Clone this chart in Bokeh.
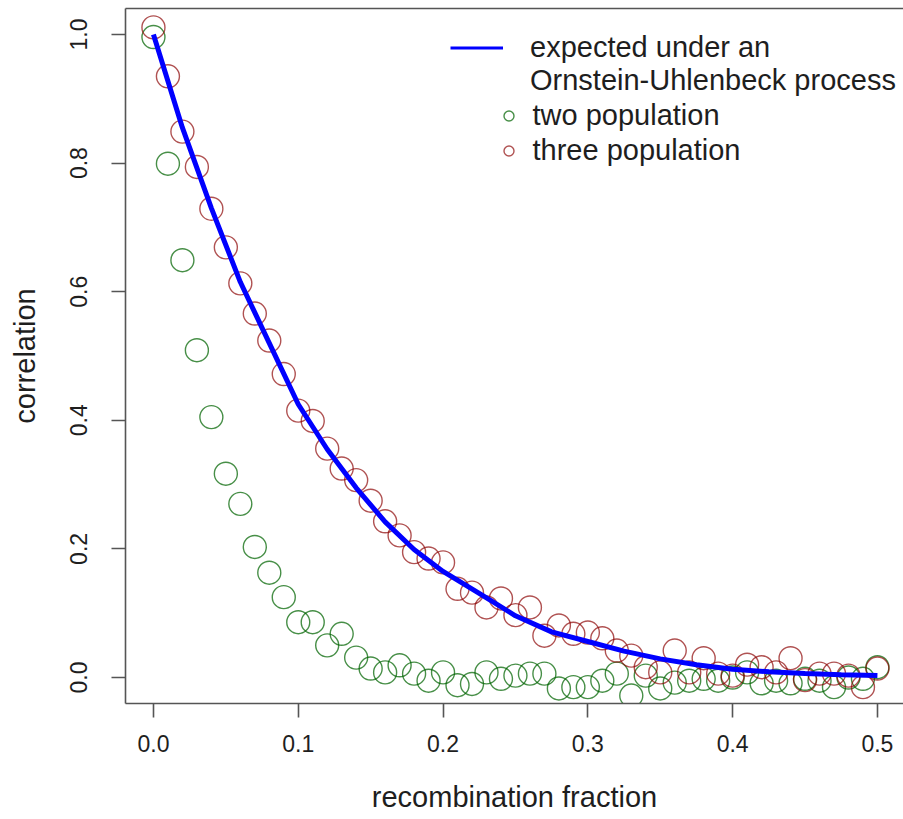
from bokeh.plotting import figure
from bokeh.models import (Range1d, FixedTicker, PrintfTickFormatter, LinearAxis,
                          Legend, LegendItem)
from bokeh.embed import file_html
from bokeh.resources import INLINE

# ---- data ----
rec_frac = [0.00, 0.01, 0.02, 0.03, 0.04, 0.05, 0.06, 0.07, 0.08, 0.09,
            0.10, 0.11, 0.12, 0.13, 0.14, 0.15, 0.16, 0.17, 0.18, 0.19,
            0.20, 0.21, 0.22, 0.23, 0.24, 0.25, 0.26, 0.27, 0.28, 0.29,
            0.30, 0.31, 0.32, 0.33, 0.34, 0.35, 0.36, 0.37, 0.38, 0.39,
            0.40, 0.41, 0.42, 0.43, 0.44, 0.45, 0.46, 0.47, 0.48, 0.49,
            0.50]

two_population = [0.996, 0.799, 0.649, 0.509, 0.405, 0.317, 0.270, 0.203, 0.163, 0.125,
                  0.086, 0.086, 0.050, 0.068, 0.031, 0.014, 0.008, 0.019, 0.006, -0.005,
                  0.008, -0.012, -0.010, 0.008, -0.002, 0.003, 0.006, 0.006, -0.017, -0.015,
                  -0.015, -0.005, 0.006, -0.028, 0.003, -0.017, -0.008, -0.005, -0.002, -0.005,
                  0.000, 0.008, -0.009, -0.005, -0.009, -0.002, -0.005, -0.015, 0.000, -0.002,
                  0.016]

three_population = [1.011, 0.935, 0.849, 0.794, 0.729, 0.669, 0.613, 0.566, 0.524, 0.472,
                    0.415, 0.399, 0.356, 0.325, 0.307, 0.275, 0.243, 0.221, 0.195, 0.185,
                    0.179, 0.138, 0.132, 0.109, 0.123, 0.097, 0.109, 0.065, 0.081, 0.068,
                    0.070, 0.061, 0.042, 0.034, 0.016, 0.008, 0.042, 0.008, 0.030, 0.006,
                    0.003, 0.020, 0.016, 0.008, 0.030, -0.004, 0.006, 0.006, 0.003, -0.015,
                    0.014]

ou_x = [0.0, 0.02, 0.04, 0.06, 0.08, 0.10, 0.12, 0.14, 0.16, 0.18, 0.20, 0.225,
        0.25, 0.275, 0.30, 0.325, 0.35, 0.375, 0.40, 0.425, 0.45, 0.475, 0.50]
ou_y = [1.0, 0.855, 0.730, 0.615, 0.520, 0.425, 0.355, 0.295, 0.242, 0.199, 0.165, 0.131,
        0.096, 0.071, 0.056, 0.041, 0.029, 0.020, 0.013, 0.009, 0.0064, 0.0045, 0.003]

x_ticks = [0.0, 0.1, 0.2, 0.3, 0.4, 0.5]
y_ticks = [0.0, 0.2, 0.4, 0.6, 0.8, 1.0]

FONT = "Liberation Sans"
AXC = "#555555"
TXT = "#1e1e1e"
NAN = float("nan")

p = figure(width=903, height=819, output_backend="svg", toolbar_location=None,
           x_range=Range1d(-0.0193, 0.518), y_range=Range1d(-0.0404, 1.0404),
           min_border_left=125, min_border_right=0, min_border_top=8,
           min_border_bottom=116)
p.grid.visible = False
p.outline_line_color = None
p.background_fill_color = "white"
p.border_fill_color = "white"

g = p.scatter(rec_frac, two_population, marker="circle", size=23, fill_color=None,
              line_color="#006400", line_alpha=0.72, line_width=1.4)
r = p.scatter(rec_frac, three_population, marker="circle", size=23, fill_color=None,
              line_color="#8b0000", line_alpha=0.68, line_width=1.4)
b = p.line(ou_x, ou_y, line_color="#0000ff", line_width=5)
# legend-only proxy renderers (undrawable NaN data)
leg_line = p.line(x=[NAN], y=[NAN], line_color="#0000ff", line_width=3)
dummy = p.line(x=[NAN], y=[NAN], line_alpha=0)

for ax in (p.xaxis[0], p.yaxis[0]):
    ax.axis_line_color = AXC
    ax.axis_line_width = 1.6
    ax.major_tick_line_color = AXC
    ax.major_tick_line_width = 1.6
    ax.major_tick_out = 14
    ax.major_tick_in = 0
    ax.minor_tick_line_color = None
    ax.major_label_text_font = FONT
    ax.major_label_text_font_size = "23px"
    ax.major_label_text_color = TXT
    ax.axis_label_text_font = FONT
    ax.axis_label_text_font_size = "29px"
    ax.axis_label_text_font_style = "normal"
    ax.axis_label_text_color = TXT
    ax.formatter = PrintfTickFormatter(format="%.1f")

p.xaxis.ticker = FixedTicker(ticks=x_ticks)
p.yaxis.ticker = FixedTicker(ticks=y_ticks)
p.xaxis.axis_label = "recombination fraction"
p.yaxis.axis_label = "correlation"
p.yaxis.major_label_orientation = "vertical"
p.xaxis.major_label_standoff = 17
p.yaxis.major_label_standoff = 24
p.xaxis.axis_label_standoff = 26
p.yaxis.axis_label_standoff = 27

top = LinearAxis(ticker=FixedTicker(ticks=[]), axis_line_color=AXC, axis_line_width=1.6,
                 major_tick_line_color=None, minor_tick_line_color=None,
                 major_label_text_font_size="0px", major_tick_out=0, major_tick_in=0,
                 major_label_standoff=0)
p.add_layout(top, "above")

leg1 = Legend(items=[LegendItem(label="expected under an", renderers=[leg_line]),
                     LegendItem(label="Ornstein-Uhlenbeck process", renderers=[dummy])],
              location=(325, 606.5), glyph_width=53, glyph_height=33, label_height=33,
              label_standoff=27, spacing=0, padding=0, margin=0,
              border_line_color=None, background_fill_alpha=0,
              label_text_font=FONT, label_text_font_size="29px", label_text_color=TXT)
leg2 = Legend(items=[LegendItem(label="two population", renderers=[g]),
                     LegendItem(label="three population", renderers=[r])],
              location=(370.5, 535.5), glyph_width=25, glyph_height=35, label_height=35,
              label_standoff=12, spacing=0, padding=0, margin=0,
              border_line_color=None, background_fill_alpha=0,
              label_text_font=FONT, label_text_font_size="29px", label_text_color=TXT)
p.add_layout(leg1)
p.add_layout(leg2)

open("out.html", "w").write(file_html(p, INLINE))
